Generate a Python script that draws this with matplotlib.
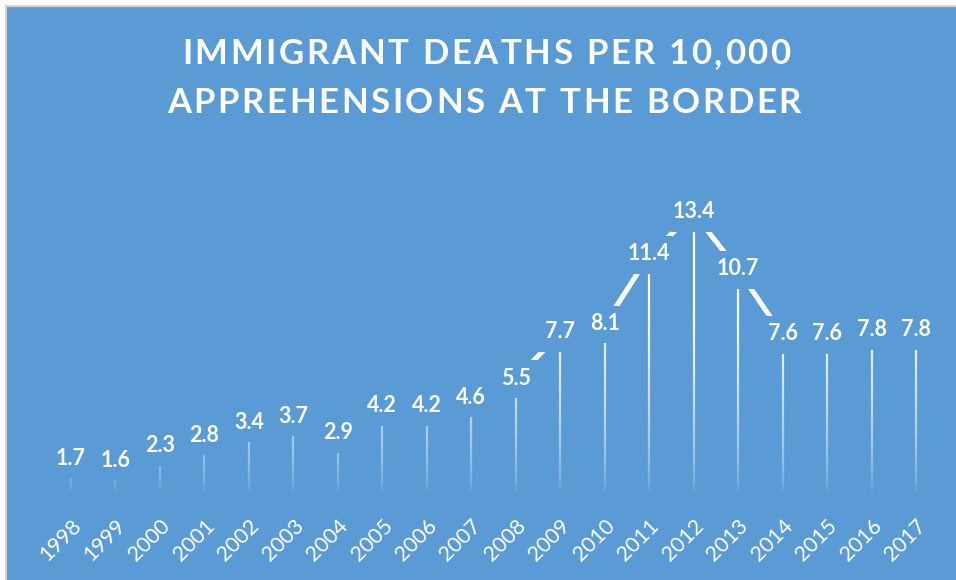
import matplotlib
matplotlib.use("Agg")
import matplotlib.pyplot as plt
import numpy as np
from matplotlib.collections import LineCollection
from matplotlib.patches import Rectangle
from matplotlib.font_manager import FontProperties

# data
years = ["1998", "1999", "2000", "2001", "2002", "2003", "2004", "2005", "2006", "2007",
         "2008", "2009", "2010", "2011", "2012", "2013", "2014", "2015", "2016", "2017"]
deaths = [1.7, 1.6, 2.3, 2.8, 3.4, 3.7, 2.9, 4.2, 4.2, 4.6,
          5.5, 7.7, 8.1, 11.4, 13.4, 10.7, 7.6, 7.6, 7.8, 7.8]
title_lines = ["IMMIGRANT DEATHS PER 10,000", "APPREHENSIONS AT THE BORDER"]

blue = "#5B9BD5"
W, H = 956, 580

fig = plt.figure(figsize=(W / 100, H / 100), dpi=100)
fig.patch.set_facecolor("white")
fig.patches.append(Rectangle((6 / W, -40 / H), 1000 / W, 614 / H, transform=fig.transFigure,
                             facecolor=blue, edgecolor="#D4D4D4", lw=1.5, zorder=-5))

# plot area: category centres 44.5 px apart, zero line at y=495 px
ax = fig.add_axes([48.75 / W, 85 / H, 889.5 / W, (495 - 158.2) / H])
ax.set_facecolor("none")
for s in ax.spines.values():
    s.set_visible(False)
ax.set_xlim(-0.5, len(years) - 0.5)
ax.set_ylim(0, 16)
ax.set_yticks([])

x = np.arange(len(years))

# drop lines fading from white to transparent towards the axis
segs, cols = [], []
for i, v in zip(x, deaths):
    ys = np.linspace(0, v, 80)
    for a, b in zip(ys[:-1], ys[1:]):
        segs.append([(i, a), (i, b)])
        m = (a + b) / 2
        cols.append((1, 1, 1, min(1.0, (max(m - 0.15, 0) / 9) ** 0.6)))
ax.add_collection(LineCollection(segs, colors=cols, linewidths=1.6, zorder=2))

ax.plot(x, deaths, color="white", lw=3.6, solid_capstyle="butt", zorder=3)

# label boxes (filled with the background colour) hide the line near each point
box_w, box_h = 1.04, 1.8
for i, v in zip(x, deaths):
    ax.add_patch(Rectangle((i - box_w / 2, v - box_h / 2), box_w, box_h,
                           facecolor=blue, edgecolor="none", zorder=4))
    ax.text(i, v + 0.05, "{:.1f}".format(v), ha="center", va="center", fontsize=15.5,
            fontweight="bold", color="white", family="Lato", zorder=5)

ax.set_xticks(x)
ax.set_xticklabels(years, rotation=45, ha="right", va="top", rotation_mode="anchor",
                   fontsize=15.5, color="white", family="Lato")
ax.tick_params(axis="x", length=0, pad=15)


def spaced_title(text, xc, y_base, tracking, prop):
    # title letters are spread out in the original, so place them one by one
    r = fig.canvas.get_renderer()
    def width(s):
        return r.get_text_width_height_descent(s, prop, ismath=False)[0]
    wi = width("I")
    offs = [0.0] + [width(text[:k] + "I") - wi for k in range(1, len(text))]
    total = width(text) + tracking * (len(text) - 1)
    x0 = xc - total / 2
    for k, ch in enumerate(text):
        if ch == " ":
            continue
        fig.text((x0 + offs[k] + k * tracking) / W, 1 - y_base / H, ch, ha="left",
                 va="baseline", color="white", fontproperties=prop)


title_font = FontProperties(family="Lato", weight="bold", size=25)
spaced_title(title_lines[0], 486, 64, 2.6, title_font)
spaced_title(title_lines[1], 484, 113, 2.6, title_font)

fig.savefig("out.png", dpi=100, facecolor=fig.get_facecolor())
